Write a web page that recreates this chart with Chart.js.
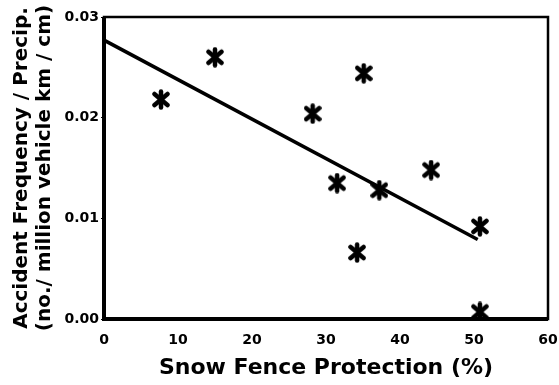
<!DOCTYPE html>
<html lang="en">
<head>
    <meta charset="UTF-8">
    <title>Snow Fence Protection vs Accident Frequency</title>
    <script src="https://cdn.jsdelivr.net/npm/chart.js"></script>
    <style>
        html, body {
            margin: 0;
            padding: 0;
            background: #fff;
        }
        .chart-container {
            position: relative;
            width: 559px;
            height: 385px;
        }
    </style>
</head>
<body>
    <div class="chart-container">
        <canvas id="scatterChart"></canvas>
    </div>

    <script>
        // observed sites
        const protectionPct = [7.7, 15.0, 28.2, 35.1, 31.5, 37.2, 44.2, 34.2, 50.8, 50.8];
        const accidentRate = [0.0218, 0.0260, 0.0204, 0.0244, 0.0135, 0.0128, 0.0148, 0.0066, 0.0092, 0.0007];

        // fitted regression line end points
        const fitX = [0, 50.5];
        const fitY = [0.0277, 0.0079];

        const xTicks = [0, 10, 20, 30, 40, 50, 60];
        const yTicks = [0.00, 0.01, 0.02, 0.03];

        const FONT = "'DejaVu Sans', sans-serif";

        // chunky asterisk marker drawn once on an offscreen canvas
        function makeAsterisk(w, h) {
            const c = document.createElement('canvas');
            c.width = w;
            c.height = h;
            const g = c.getContext('2d');
            g.translate(w / 2, h / 2);
            g.strokeStyle = '#000';
            g.lineWidth = 4.5;
            g.lineCap = 'round';
            const arms = [[0, h / 2 - 2.5], [w / 2 - 2.5, h / 2 - 5], [-(w / 2 - 2.5), h / 2 - 5]];
            arms.forEach(([dx, dy]) => {
                g.beginPath();
                g.moveTo(-dx, -dy);
                g.lineTo(dx, dy);
                g.stroke();
            });
            return c;
        }

        // box around the plot area
        const frame = {
            id: 'frame',
            afterDraw(chart) {
                const { ctx, chartArea: a } = chart;
                ctx.save();
                ctx.strokeStyle = '#000';
                ctx.lineWidth = 2.5;
                ctx.strokeRect(a.left, a.top, a.right - a.left, a.bottom - a.top);
                ctx.lineWidth = 4;
                ctx.beginPath();
                ctx.moveTo(a.left, a.top);
                ctx.lineTo(a.left, a.bottom);
                ctx.lineTo(a.right, a.bottom);
                ctx.stroke();
                ctx.restore();
            }
        };

        const ctx = document.getElementById('scatterChart').getContext('2d');
        new Chart(ctx, {
            type: 'scatter',
            data: {
                datasets: [
                    {
                        label: 'Observed',
                        data: protectionPct.map((x, i) => ({ x: x, y: accidentRate[i] })),
                        pointStyle: makeAsterisk(18, 21),
                        pointRadius: 10,
                        showLine: false
                    },
                    {
                        label: 'Fit',
                        type: 'line',
                        data: fitX.map((x, i) => ({ x: x, y: fitY[i] })),
                        borderColor: '#000',
                        borderWidth: 3.5,
                        pointRadius: 0,
                        fill: false
                    }
                ]
            },
            options: {
                responsive: true,
                maintainAspectRatio: false,
                animation: false,
                layout: {
                    padding: { left: 0, right: 2, top: 17, bottom: 0 }
                },
                plugins: {
                    legend: { display: false },
                    tooltip: { enabled: false }
                },
                scales: {
                    x: {
                        type: 'linear',
                        min: 0,
                        max: 60,
                        afterBuildTicks: axis => { axis.ticks = xTicks.map(v => ({ value: v })); },
                        afterFit: axis => { axis.height = 66; },
                        // long invisible ticks push the labels down without widening the right padding
                        grid: { drawOnChartArea: false, drawTicks: true, tickLength: 13, tickColor: 'rgba(0,0,0,0)' },
                        border: { display: false },
                        ticks: {
                            color: '#000',
                            padding: 0,
                            font: { family: FONT, size: 14, weight: 'bold' }
                        },
                        title: {
                            display: true,
                            text: 'Snow Fence Protection (%)',
                            color: '#000',
                            padding: { top: 0, bottom: 4 },
                            font: { family: FONT, size: 22, weight: 'bold' }
                        }
                    },
                    y: {
                        type: 'linear',
                        min: 0,
                        max: 0.03,
                        afterBuildTicks: axis => { axis.ticks = yTicks.map(v => ({ value: v })); },
                        afterFit: axis => { axis.width = 104; },
                        grid: { drawOnChartArea: false, drawTicks: true, tickLength: 3, color: '#000' },
                        border: { display: false },
                        ticks: {
                            color: '#000',
                            padding: 2,
                            callback: v => v.toFixed(2),
                            font: { family: FONT, size: 14, weight: 'bold' }
                        },
                        title: {
                            display: true,
                            text: ['Accident Frequency / Precip.', '(no./ million vehicle km / cm)'],
                            color: '#000',
                            padding: { top: 10, bottom: 0 },
                            font: { family: FONT, size: 20, weight: 'bold', lineHeight: 1.15 }
                        }
                    }
                }
            },
            plugins: [frame]
        });
    </script>
</body>
</html>
